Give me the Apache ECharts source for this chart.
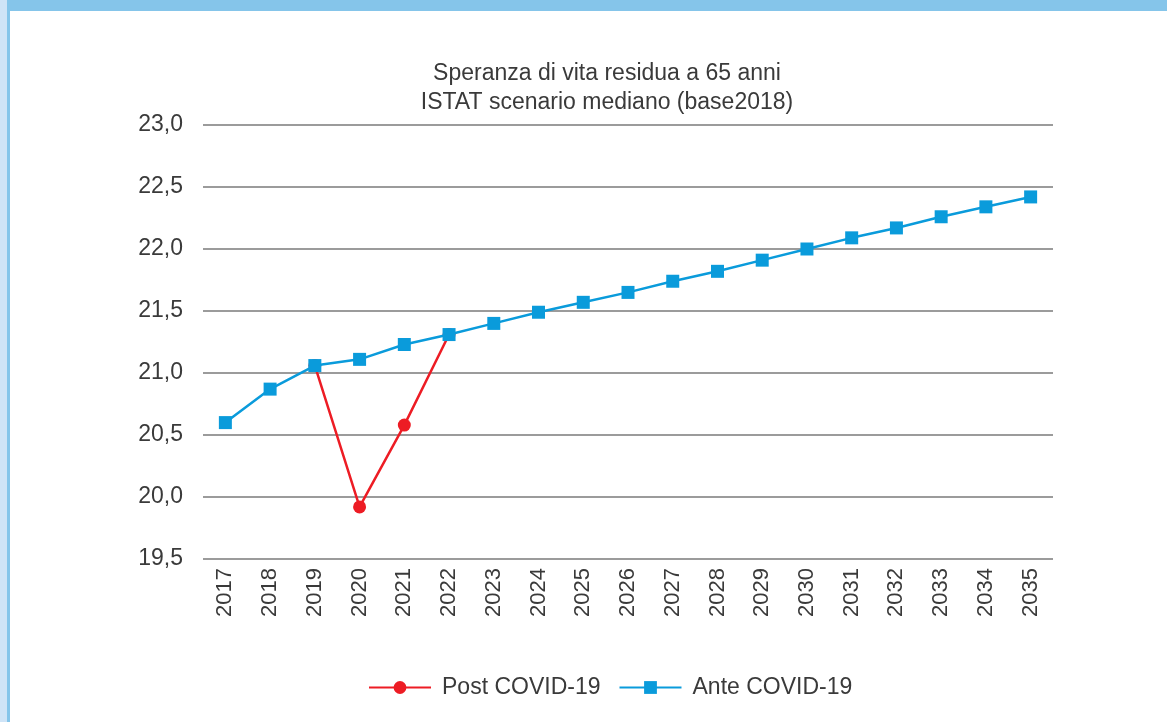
<!DOCTYPE html>
<html>
<head>
<meta charset="utf-8">
<script src="https://cdn.jsdelivr.net/npm/echarts@6/dist/echarts.min.js"></script>
<style>
  html, body { margin: 0; padding: 0; background: #fff; }
  #wrap { position: relative; width: 1167px; height: 722px; overflow: hidden; }
  #edgeLight { position: absolute; left: 0; top: 0; width: 7px; height: 722px; background: #cfe4f7; }
  #edgeLeft { position: absolute; left: 7px; top: 0; width: 3px; height: 722px; background: #85c5ea; }
  #edgeTop { position: absolute; left: 7px; top: 0; width: 1160px; height: 11px; background: #85c5ea; }
  #main { position: absolute; left: 0; top: 0; width: 1167px; height: 722px; }
</style>
</head>
<body>
<div id="wrap">
  <div id="main"></div>
  <div id="edgeLight"></div>
  <div id="edgeLeft"></div>
  <div id="edgeTop"></div>
</div>
<script>
  // anni
  var years = ['2017', '2018', '2019', '2020', '2021', '2022', '2023', '2024', '2025', '2026',
    '2027', '2028', '2029', '2030', '2031', '2032', '2033', '2034', '2035'];
  // scenario prima del covid
  var anteCovid = [20.60, 20.87, 21.06, 21.11, 21.23, 21.31, 21.40, 21.49, 21.57, 21.65,
    21.74, 21.82, 21.91, 22.00, 22.09, 22.17, 22.26, 22.34, 22.42];
  // scenario dopo il covid (solo 2019-2022)
  var postCovid = [null, null, 21.06, 19.92, 20.58, 21.31, null, null, null, null,
    null, null, null, null, null, null, null, null, null];
  var yTicks = { min: 19.5, max: 23.0, step: 0.5 };

  var myChart = echarts.init(document.getElementById('main'));
  var font = '"Liberation Sans", Arial, sans-serif';
  var txt = '#3a3a3a';

  myChart.setOption({
    animation: false,
    title: {
      text: 'Speranza di vita residua a 65 anni\nISTAT scenario mediano (base2018)',
      left: 602,
      textAlign: 'center',
      top: 54,
      textStyle: {
        fontFamily: font,
        fontSize: 23,
        fontWeight: 'normal',
        color: txt,
        lineHeight: 29
      }
    },
    legend: {
      top: 671,
      left: 363,
      itemWidth: 62,
      itemHeight: 16,
      itemGap: 18,
      textStyle: { fontFamily: font, fontSize: 23, color: txt, padding: [0, 0, 0, 6] },
      data: ['Post COVID-19', 'Ante COVID-19']
    },
    grid: {
      left: 203,
      right: 114,
      top: 125,
      bottom: 163
    },
    xAxis: {
      type: 'category',
      data: years,
      boundaryGap: true,
      axisLine: { show: false },
      axisTick: { show: false },
      axisLabel: {
        rotate: 90,
        margin: 9,
        fontFamily: font,
        fontSize: 22,
        color: txt
      }
    },
    yAxis: {
      type: 'value',
      min: yTicks.min,
      max: yTicks.max,
      interval: yTicks.step,
      axisLine: { show: false },
      axisTick: { show: false },
      axisLabel: {
        margin: 20,
        fontFamily: font,
        fontSize: 23,
        color: txt,
        formatter: function (v) { return v.toFixed(1).replace('.', ','); }
      },
      splitLine: { lineStyle: { color: '#9b9b9b', width: 2 } }
    },
    series: [
      {
        name: 'Post COVID-19',
        type: 'line',
        data: postCovid,
        z: 2,
        symbol: 'circle',
        symbolSize: 13,
        lineStyle: { color: '#ed1c24', width: 2.5 },
        itemStyle: { color: '#ed1c24' }
      },
      {
        name: 'Ante COVID-19',
        type: 'line',
        data: anteCovid,
        z: 3,
        symbol: 'rect',
        symbolSize: 13,
        lineStyle: { color: '#0a9bdb', width: 2.5 },
        itemStyle: { color: '#0a9bdb' }
      }
    ]
  });
</script>
</body>
</html>
